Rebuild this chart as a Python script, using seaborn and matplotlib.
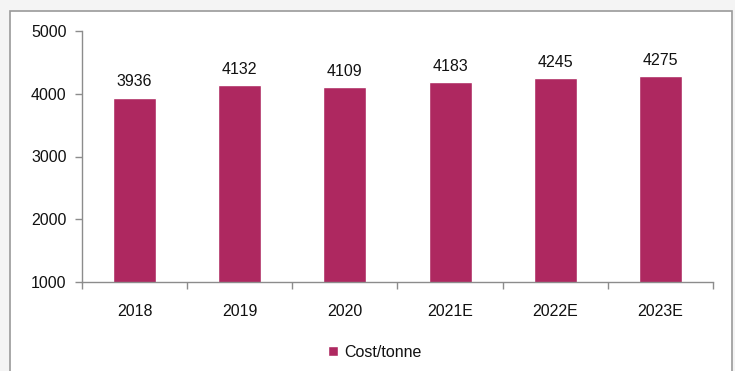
import matplotlib
matplotlib.use("Agg")
import matplotlib.pyplot as plt
from matplotlib.patches import Rectangle
from matplotlib.ticker import FixedLocator
import seaborn as sns
import pandas as pd

years = ["2018", "2019", "2020", "2021E", "2022E", "2023E"]
cost_per_tonne = [3936, 4132, 4109, 4183, 4245, 4275]
series_name = "Cost/tonne"
bar_color = "#AE2860"

sns.set_style("white")
plt.rcParams["font.family"] = ["Liberation Sans", "DejaVu Sans"]

df = pd.DataFrame({"year": years, "value": cost_per_tonne, "series": series_name})

W, H, DPI = 735, 371, 100
fig = plt.figure(figsize=(W / DPI, H / DPI), dpi=DPI, facecolor="#f4f4f4")

# white panel with a grey frame behind the chart
fig.patches.append(Rectangle((10 / W, -0.05), (732 - 10) / W, 1.05 - 11 / H,
                             transform=fig.transFigure, facecolor="white",
                             edgecolor="#9a9a9a", linewidth=1.2, zorder=-10))

left, right, top, bottom = 82, 713, 31, 282
ax = fig.add_axes([left / W, 1 - bottom / H, (right - left) / W, (bottom - top) / H])
ax.set_facecolor("white")
ax.set_zorder(1)

sns.barplot(data=df, x="year", y="value", hue="series", palette=[bar_color],
            width=0.41, ax=ax, saturation=1)

ax.set_ylim(1000, 5000)
ax.set_yticks([1000, 2000, 3000, 4000, 5000])
ax.set_xlim(-0.5, len(years) - 0.5)
ax.set_xlabel("")
ax.set_ylabel("")

for s in ["top", "right"]:
    ax.spines[s].set_visible(False)
for s in ["left", "bottom"]:
    ax.spines[s].set_color("#8c8c8c")
    ax.spines[s].set_linewidth(1.0)

ax.tick_params(axis="y", which="major", length=5, width=1, color="#8c8c8c",
               labelsize=11.5, pad=6, left=True, labelcolor="#111111")
ax.tick_params(axis="x", which="major", length=0, labelsize=11.5, pad=16,
               labelcolor="#111111")
ax.xaxis.set_minor_locator(FixedLocator([i - 0.5 for i in range(len(years) + 1)]))
ax.tick_params(axis="x", which="minor", length=5, width=1, color="#8c8c8c",
               bottom=True)

for i, v in enumerate(cost_per_tonne):
    ax.annotate(f"{v}", (i, v), xytext=(0, 6), textcoords="offset points",
                ha="center", va="bottom", fontsize=11.5, color="#111111")

ax.legend(loc="center", bbox_to_anchor=(0.464, -0.28), frameon=False,
          fontsize=11.5, handlelength=0.6, handleheight=0.6, handletextpad=0.4,
          labelcolor="#111111")

fig.savefig("out.png", dpi=DPI, facecolor=fig.get_facecolor())
